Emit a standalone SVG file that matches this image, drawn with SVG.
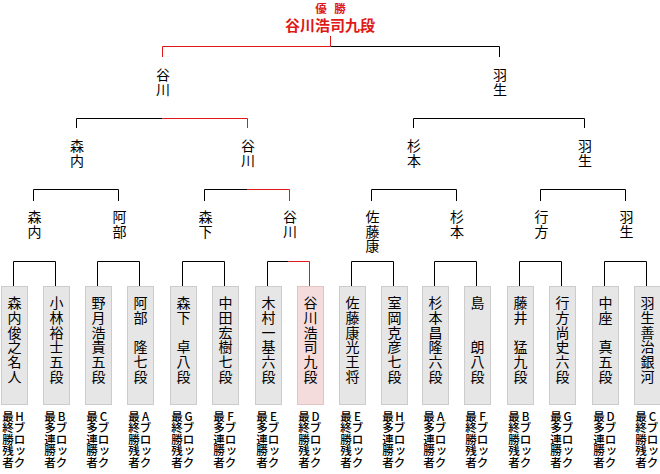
<svg xmlns="http://www.w3.org/2000/svg" width="660" height="474" viewBox="0 0 660 474">
<style>
text{font-family:"Noto Sans CJK JP","Noto Sans CJK SC",sans-serif;text-anchor:middle;dominant-baseline:central;fill:#000}
.nm{font-size:14px}
.lb{font-size:14px}
.bt{font-size:11.5px;font-weight:500}
.win{fill:#e01818;font-weight:bold}
.box{fill:#e6e6e6;stroke:#cccccc;stroke-width:1}
.boxw{fill:#f4dcdc;stroke:#e2c4c4;stroke-width:1}
.k{fill:none;stroke:#000;stroke-width:1}
.r{fill:none;stroke:#e01818;stroke-width:1}
</style>
<g id="champion">
<text class="win" style="font-size:11.5px" x="321 340" y="7.5 7.5">優勝</text>
<text class="win" style="font-size:15px" x="330" y="24">谷川浩司九段</text>
</g>
<g id="connectors">
<path class="k" d="M330.5 46.5H499.5V57"/>
<path class="k" d="M76.5 128V118.5H162.5 M413.5 128V118.5H584.5V128"/>
<path class="k" d="M33.5 201V189.5H118.5V201 M204.5 201V189.5H247 M371.5 201V189.5H456.5V201 M540.5 201V189.5H625.5V201"/>
<path class="k" d="M13.5 286V261.5H55.5V286 M97.5 286V261.5H139.5V286 M182.5 286V261.5H224.5V286 M267.5 286V261.5H288.5 M351.5 286V261.5H393.5V286 M434.5 286V261.5H476.5V286 M519.5 286V261.5H561.5V286 M604.5 286V261.5H646.5V286"/>
<path class="r" d="M330.5 36V46.5H162.5V57 M162.5 118.5H247.5V128 M247 189.5H289.5V201 M288.5 261.5H309.5V286"/>
</g>
<g id="r1-tanigawa"><text class="lb" x="163 163" y="74 88.5">谷川</text></g>
<g id="r1-habu"><text class="lb" x="500 500" y="74 88.5">羽生</text></g>
<g id="r2-moriuchi"><text class="lb" x="77 77" y="145 159.5">森内</text></g>
<g id="r2-tanigawa"><text class="lb" x="248 248" y="145 159.5">谷川</text></g>
<g id="r2-sugimoto"><text class="lb" x="414 414" y="145 159.5">杉本</text></g>
<g id="r2-habu"><text class="lb" x="585 585" y="145 159.5">羽生</text></g>
<g id="r3-moriuchi"><text class="lb" x="34.5 34.5" y="216 230.5">森内</text></g>
<g id="r3-abe"><text class="lb" x="119.5 119.5" y="216 230.5">阿部</text></g>
<g id="r3-morishita"><text class="lb" x="205.5 205.5" y="216 230.5">森下</text></g>
<g id="r3-tanigawa"><text class="lb" x="290 290" y="216 230.5">谷川</text></g>
<g id="r3-satoyasu"><text class="lb" x="372.5 372.5 372.5" y="216 230.5 245">佐藤康</text></g>
<g id="r3-sugimoto"><text class="lb" x="457 457" y="216 230.5">杉本</text></g>
<g id="r3-namekata"><text class="lb" x="541.5 541.5" y="216 230.5">行方</text></g>
<g id="r3-habu"><text class="lb" x="626.5 626.5" y="216 230.5">羽生</text></g>

<g id="p1" transform="translate(13.5,0)"><rect class="box" x="-12" y="286.5" width="26" height="118"/><text class="nm" x="1 1 1 1 1 1" y="302 316.8 331.6 346.4 361.2 376">森内俊之名人</text><text class="bt" x="-5.5 -5.5 -5.5 -5.5 -5.5" y="415.5 427 438.5 450 461.5">最終勝残者</text><text class="bt" x="6 6 6 7 6" y="415.5 427 438.5 449 461.5">Hブロック</text></g>
<g id="p2" transform="translate(55.5,0)"><rect class="box" x="-12" y="286.5" width="26" height="118"/><text class="nm" x="1 1 1 1 1 1" y="302 316.8 331.6 346.4 361.2 376">小林裕士五段</text><text class="bt" x="-5.5 -5.5 -5.5 -5.5 -5.5" y="415.5 427 438.5 450 461.5">最多連勝者</text><text class="bt" x="6 6 6 7 6" y="415.5 427 438.5 449 461.5">Bブロック</text></g>
<g id="p3" transform="translate(97.5,0)"><rect class="box" x="-12" y="286.5" width="26" height="118"/><text class="nm" x="1 1 1 1 1 1" y="302 316.8 331.6 346.4 361.2 376">野月浩貴五段</text><text class="bt" x="-5.5 -5.5 -5.5 -5.5 -5.5" y="415.5 427 438.5 450 461.5">最多連勝者</text><text class="bt" x="6 6 6 7 6" y="415.5 427 438.5 449 461.5">Cブロック</text></g>
<g id="p4" transform="translate(139.5,0)"><rect class="box" x="-12" y="286.5" width="26" height="118"/><text class="nm" x="1 1 1 1 1 1" y="302 316.8 331.6 346.4 361.2 376">阿部　隆七段</text><text class="bt" x="-5.5 -5.5 -5.5 -5.5 -5.5" y="415.5 427 438.5 450 461.5">最終勝残者</text><text class="bt" x="6 6 6 7 6" y="415.5 427 438.5 449 461.5">Aブロック</text></g>
<g id="p5" transform="translate(182.5,0)"><rect class="box" x="-12" y="286.5" width="26" height="118"/><text class="nm" x="1 1 1 1 1 1" y="302 316.8 331.6 346.4 361.2 376">森下　卓八段</text><text class="bt" x="-5.5 -5.5 -5.5 -5.5 -5.5" y="415.5 427 438.5 450 461.5">最終勝残者</text><text class="bt" x="6 6 6 7 6" y="415.5 427 438.5 449 461.5">Gブロック</text></g>
<g id="p6" transform="translate(224.5,0)"><rect class="box" x="-12" y="286.5" width="26" height="118"/><text class="nm" x="1 1 1 1 1 1" y="302 316.8 331.6 346.4 361.2 376">中田宏樹七段</text><text class="bt" x="-5.5 -5.5 -5.5 -5.5 -5.5" y="415.5 427 438.5 450 461.5">最多連勝者</text><text class="bt" x="6 6 6 7 6" y="415.5 427 438.5 449 461.5">Fブロック</text></g>
<g id="p7" transform="translate(267.5,0)"><rect class="box" x="-12" y="286.5" width="26" height="118"/><text class="nm" x="1 1 1 1 1 1" y="302 316.8 331.6 346.4 361.2 376">木村一基六段</text><text class="bt" x="-5.5 -5.5 -5.5 -5.5 -5.5" y="415.5 427 438.5 450 461.5">最多連勝者</text><text class="bt" x="6 6 6 7 6" y="415.5 427 438.5 449 461.5">Eブロック</text></g>
<g id="p8" transform="translate(309.5,0)"><rect class="boxw" x="-12" y="286.5" width="26" height="118"/><text class="nm" x="1 1 1 1 1 1" y="302 316.8 331.6 346.4 361.2 376">谷川浩司九段</text><text class="bt" x="-5.5 -5.5 -5.5 -5.5 -5.5" y="415.5 427 438.5 450 461.5">最終勝残者</text><text class="bt" x="6 6 6 7 6" y="415.5 427 438.5 449 461.5">Dブロック</text></g>
<g id="p9" transform="translate(351.5,0)"><rect class="box" x="-12" y="286.5" width="26" height="118"/><text class="nm" x="1 1 1 1 1 1" y="302 316.8 331.6 346.4 361.2 376">佐藤康光王将</text><text class="bt" x="-5.5 -5.5 -5.5 -5.5 -5.5" y="415.5 427 438.5 450 461.5">最終勝残者</text><text class="bt" x="6 6 6 7 6" y="415.5 427 438.5 449 461.5">Eブロック</text></g>
<g id="p10" transform="translate(393.5,0)"><rect class="box" x="-12" y="286.5" width="26" height="118"/><text class="nm" x="1 1 1 1 1 1" y="302 316.8 331.6 346.4 361.2 376">室岡克彦七段</text><text class="bt" x="-5.5 -5.5 -5.5 -5.5 -5.5" y="415.5 427 438.5 450 461.5">最多連勝者</text><text class="bt" x="6 6 6 7 6" y="415.5 427 438.5 449 461.5">Hブロック</text></g>
<g id="p11" transform="translate(434.5,0)"><rect class="box" x="-12" y="286.5" width="26" height="118"/><text class="nm" x="1 1 1 1 1 1" y="302 316.8 331.6 346.4 361.2 376">杉本昌隆六段</text><text class="bt" x="-5.5 -5.5 -5.5 -5.5 -5.5" y="415.5 427 438.5 450 461.5">最多連勝者</text><text class="bt" x="6 6 6 7 6" y="415.5 427 438.5 449 461.5">Aブロック</text></g>
<g id="p12" transform="translate(476.5,0)"><rect class="box" x="-12" y="286.5" width="26" height="118"/><text class="nm" x="1 1 1 1 1 1" y="302 316.8 331.6 346.4 361.2 376">島　　朗八段</text><text class="bt" x="-5.5 -5.5 -5.5 -5.5 -5.5" y="415.5 427 438.5 450 461.5">最終勝残者</text><text class="bt" x="6 6 6 7 6" y="415.5 427 438.5 449 461.5">Fブロック</text></g>
<g id="p13" transform="translate(519.5,0)"><rect class="box" x="-12" y="286.5" width="26" height="118"/><text class="nm" x="1 1 1 1 1 1" y="302 316.8 331.6 346.4 361.2 376">藤井　猛九段</text><text class="bt" x="-5.5 -5.5 -5.5 -5.5 -5.5" y="415.5 427 438.5 450 461.5">最終勝残者</text><text class="bt" x="6 6 6 7 6" y="415.5 427 438.5 449 461.5">Bブロック</text></g>
<g id="p14" transform="translate(561.5,0)"><rect class="box" x="-12" y="286.5" width="26" height="118"/><text class="nm" x="1 1 1 1 1 1" y="302 316.8 331.6 346.4 361.2 376">行方尚史六段</text><text class="bt" x="-5.5 -5.5 -5.5 -5.5 -5.5" y="415.5 427 438.5 450 461.5">最多連勝者</text><text class="bt" x="6 6 6 7 6" y="415.5 427 438.5 449 461.5">Gブロック</text></g>
<g id="p15" transform="translate(604.5,0)"><rect class="box" x="-12" y="286.5" width="26" height="118"/><text class="nm" x="1 1 1 1 1 1" y="302 316.8 331.6 346.4 361.2 376">中座　真五段</text><text class="bt" x="-5.5 -5.5 -5.5 -5.5 -5.5" y="415.5 427 438.5 450 461.5">最多連勝者</text><text class="bt" x="6 6 6 7 6" y="415.5 427 438.5 449 461.5">Dブロック</text></g>
<g id="p16" transform="translate(646.5,0)"><rect class="box" x="-12" y="286.5" width="26" height="118"/><text class="nm" x="1 1 1 1 1 1" y="302 316.8 331.6 346.4 361.2 376">羽生善治銀河</text><text class="bt" x="-5.5 -5.5 -5.5 -5.5 -5.5" y="415.5 427 438.5 450 461.5">最終勝残者</text><text class="bt" x="6 6 6 7 6" y="415.5 427 438.5 449 461.5">Cブロック</text></g>
</svg>
